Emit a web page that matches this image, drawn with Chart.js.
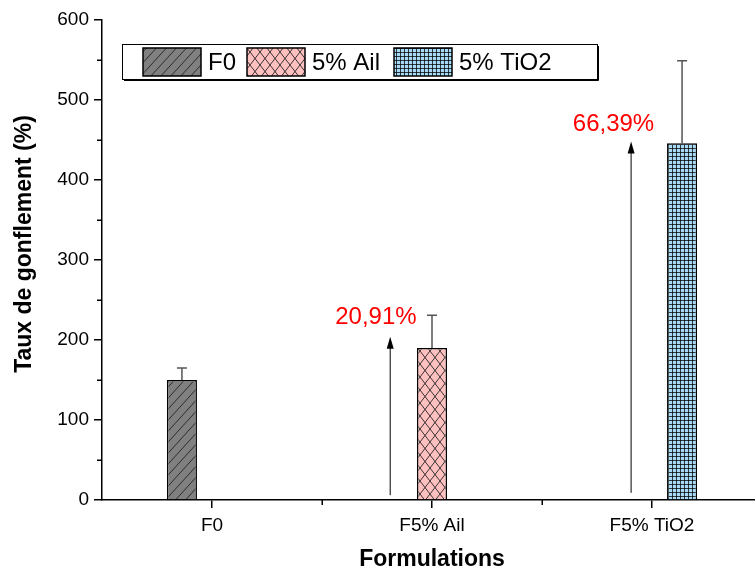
<!DOCTYPE html>
<html>
<head>
<meta charset="utf-8">
<script src="https://cdn.jsdelivr.net/npm/chart.js@4.4.1/dist/chart.umd.min.js"></script>
<style>
  html, body { margin: 0; padding: 0; background: #fff; overflow: hidden; }
  #wrap { width: 765px; height: 574px; }
</style>
</head>
<body>
<div id="wrap"><canvas id="chart" width="765" height="574"></canvas></div>
<script>
(function() {
  'use strict';

  // data
  var categories = ['F0', 'F5% Ail', 'F5% TiO2'];
  var seriesNames = ['F0', '5% Ail', '5% TiO2'];
  var f0Values = [150, null, null];
  var ailValues = [null, 190, null];
  var tio2Values = [null, null, 446];
  var errUp = [15, 41, 103];
  var yMinorTicks = [50, 150, 250, 350, 450, 550];
  var xMinorTicks = [0.5, 1.5, 2.5];
  var arrowX = [0.81, 1.905];
  var arrowFrom = [6, 9];
  var arrowTo = [204, 448];
  var noteX = [0.745, 1.825];
  var noteY = [228, 469];
  var noteText = ['20,91%', '66,39%'];

  var FONT = "'Liberation Sans', Arial, sans-serif";
  Chart.defaults.font.family = FONT;
  Chart.defaults.color = '#000';

  function makePattern(w, h, bg, draw) {
    var c = document.createElement('canvas');
    c.width = w;
    c.height = h;
    var g = c.getContext('2d');
    g.fillStyle = bg;
    g.fillRect(0, 0, w, h);
    draw(g, w, h);
    return g.createPattern(c, 'repeat');
  }

  var cv = document.getElementById('chart');

  var hatchGray = makePattern(10, 11, '#808080', function(g, w, h) {
    g.strokeStyle = '#222';
    g.lineWidth = 0.9;
    g.beginPath();
    g.moveTo(-1, h + 1.1); g.lineTo(w + 1, -1.1);
    g.moveTo(-1 - w, h + 1.1); g.lineTo(1, -1.1);
    g.moveTo(w - 1, h + 1.1); g.lineTo(2 * w + 1, -1.1);
    g.stroke();
  });

  var crossPink = makePattern(10, 13, '#ffc0c0', function(g, w, h) {
    g.strokeStyle = '#222';
    g.lineWidth = 0.9;
    g.beginPath();
    g.moveTo(0, 0); g.lineTo(w, h);
    g.moveTo(w, 0); g.lineTo(0, h);
    g.stroke();
  });

  var gridBlue = makePattern(4, 4, '#a8daf5', function(g, w, h) {
    g.fillStyle = 'rgba(0,0,0,0.75)';
    g.fillRect(0, 0, w, 1);
    g.fillRect(0, 0, 1, h);
  });

  var fills = [hatchGray, crossPink, gridBlue];

  var errorBars = {
    id: 'errorBars',
    afterDatasetsDraw: function(chart) {
      var ctx = chart.ctx;
      var y = chart.scales.y;
      ctx.save();
      ctx.strokeStyle = '#555';
      ctx.lineWidth = 1.5;
      chart.data.datasets.forEach(function(ds, i) {
        var meta = chart.getDatasetMeta(i);
        ds.data.forEach(function(v, j) {
          if (v == null) return;
          var bar = meta.data[j];
          var top = y.getPixelForValue(v + errUp[i]);
          var base = y.getPixelForValue(v);
          ctx.beginPath();
          ctx.moveTo(bar.x, base);
          ctx.lineTo(bar.x, top);
          ctx.moveTo(bar.x - 5, top);
          ctx.lineTo(bar.x + 5, top);
          ctx.stroke();
        });
      });
      ctx.restore();
    }
  };

  var arrows = {
    id: 'arrows',
    afterDatasetsDraw: function(chart) {
      var ctx = chart.ctx;
      var x = chart.scales.x;
      var y = chart.scales.y;
      ctx.save();
      arrowX.forEach(function(ax, i) {
        var px = x.getPixelForValue(ax);
        var y0 = y.getPixelForValue(arrowFrom[i]);
        var y1 = y.getPixelForValue(arrowTo[i]);
        ctx.strokeStyle = '#000';
        ctx.lineWidth = 1;
        ctx.beginPath();
        ctx.moveTo(px, y0);
        ctx.lineTo(px, y1 + 10);
        ctx.stroke();
        ctx.fillStyle = '#000';
        ctx.beginPath();
        ctx.moveTo(px, y1);
        ctx.lineTo(px - 3.5, y1 + 12);
        ctx.lineTo(px + 3.5, y1 + 12);
        ctx.closePath();
        ctx.fill();
      });
      ctx.fillStyle = '#ff0000';
      ctx.font = '24px ' + FONT;
      ctx.textAlign = 'center';
      ctx.textBaseline = 'middle';
      noteText.forEach(function(t, i) {
        ctx.fillText(t, x.getPixelForValue(noteX[i]), y.getPixelForValue(noteY[i]));
      });
      ctx.restore();
    }
  };

  var minorTicks = {
    id: 'minorTicks',
    afterDraw: function(chart) {
      var ctx = chart.ctx;
      var x = chart.scales.x;
      var y = chart.scales.y;
      var area = chart.chartArea;
      ctx.save();
      ctx.strokeStyle = '#000';
      ctx.lineWidth = 1.5;
      ctx.beginPath();
      yMinorTicks.forEach(function(v) {
        var py = Math.round(y.getPixelForValue(v)) + 0.25;
        ctx.moveTo(area.left - 5, py);
        ctx.lineTo(area.left, py);
      });
      xMinorTicks.forEach(function(v) {
        var px = Math.round(x.getPixelForValue(v)) + 0.25;
        ctx.moveTo(px, area.bottom);
        ctx.lineTo(px, area.bottom + 5);
      });
      ctx.stroke();
      ctx.restore();
    }
  };

  var legendBox = {
    id: 'legendBox',
    afterDraw: function(chart) {
      var ctx = chart.ctx;
      var bx = 122, by = 44, bw = 475, bh = 35;
      var swatchX = [143, 247, 394];
      ctx.save();
      ctx.fillStyle = '#fff';
      ctx.fillRect(bx, by, bw, bh);
      ctx.strokeStyle = '#000';
      ctx.lineWidth = 1;
      ctx.strokeRect(bx + 0.5, by + 0.5, bw, bh);
      ctx.beginPath();
      ctx.moveTo(bx + bw + 1.5, by + 2);
      ctx.lineTo(bx + bw + 1.5, by + bh + 1.5);
      ctx.lineTo(bx + 2, by + bh + 1.5);
      ctx.stroke();
      ctx.font = '24px ' + FONT;
      ctx.textBaseline = 'middle';
      ctx.textAlign = 'left';
      chart.data.datasets.forEach(function(ds, i) {
        var sx = swatchX[i];
        ctx.fillStyle = ds.backgroundColor;
        ctx.fillRect(sx, by + 4, 58, 28);
        ctx.lineWidth = 1.5;
        ctx.strokeRect(sx, by + 4, 58, 28);
        ctx.fillStyle = '#000';
        ctx.fillText(ds.label, sx + 65, by + 19);
      });
      ctx.restore();
    }
  };

  new Chart(cv, {
    type: 'bar',
    data: {
      labels: categories,
      datasets: [
        { label: seriesNames[0], data: f0Values, backgroundColor: fills[0] },
        { label: seriesNames[1], data: ailValues, backgroundColor: fills[1] },
        { label: seriesNames[2], data: tio2Values, backgroundColor: fills[2] }
      ]
    },
    options: {
      responsive: false,
      animation: false,
      layout: { padding: { left: 0, top: 20, right: 3, bottom: 0 } },
      datasets: {
        bar: {
          borderColor: '#000',
          borderWidth: 1.5,
          categoryPercentage: 0.41,
          barPercentage: 1
        }
      },
      plugins: {
        legend: { display: false },
        tooltip: { enabled: false }
      },
      scales: {
        x: {
          type: 'category',
          offset: true,
          grid: { offset: false, drawOnChartArea: false, tickLength: 8, color: '#000', lineWidth: 1.5 },
          border: { color: '#000', width: 1.5 },
          ticks: { font: { size: 19 }, color: '#000', padding: 6, maxRotation: 0 },
          title: { display: true, text: 'Formulations', font: { size: 23, weight: 'bold' }, color: '#000', padding: { top: 0, bottom: 1 } },
          afterFit: function(scale) { scale.height = 74; }
        },
        y: {
          min: 0,
          max: 600,
          ticks: { stepSize: 100, font: { size: 19 }, color: '#000', padding: 5 },
          grid: { drawOnChartArea: false, tickLength: 8, color: '#000', lineWidth: 1.5 },
          border: { color: '#000', width: 1.5 },
          // leading no-break spaces nudge the title up, as in the original
          title: { display: true, text: '\u00a0\u00a0\u00a0\u00a0\u00a0Taux de gonflement (%)', font: { size: 23, weight: 'bold' }, color: '#000', padding: { top: 11, bottom: 0 } },
          afterFit: function(scale) { scale.width = 102; }
        }
      }
    },
    plugins: [errorBars, arrows, minorTicks, legendBox]
  });
})();
</script>
</body>
</html>
